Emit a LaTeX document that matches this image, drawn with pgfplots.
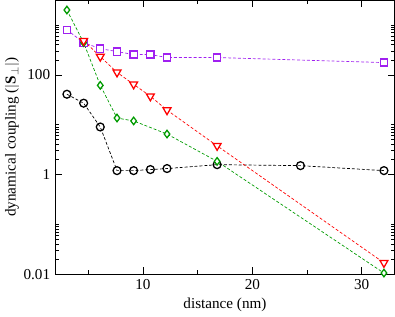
\documentclass[border=0pt]{standalone}
\usepackage{pgfplots}
\pgfplotsset{compat=1.18}
\usepackage{fontspec}
\setmainfont{Liberation Serif}
\definecolor{ggreen}{RGB}{0,155,0}
\definecolor{gviolet}{RGB}{160,32,240}
\begin{document}
\fontsize{15.4}{18}\selectfont
\begin{tikzpicture}
\begin{axis}[
  scale only axis,
  width=343bp, height=277bp,
  xmin=2, xmax=33,
  ymode=log, ymin=0.01, ymax=3100,
  xtick={10,20,30},
  minor xtick={5,15,25},
  ytick={0.01,1,100},
  yticklabels={0.01,1,100},
  minor ytick={0.02,0.03,0.04,0.05,0.06,0.07,0.08,0.09,0.1,2,3,4,5,6,7,8,9,10,200,300,400,500,600,700,800,900,1000},
  tick align=inside,
  major tick length=7bp,
  minor tick length=4bp,
  tick style={black, line width=0.6pt},
  axis line style={line width=0.9pt},
  /pgf/number format/assume math mode=true,
  tick label style={font=\fontsize{15.4}{18}\selectfont},
  label style={font=\fontsize{15.4}{18}\selectfont},
  xlabel={distance (nm)},
  ylabel={dynamical coupling ($|\mathbf{S}_\perp|$)},
  xlabel style={yshift=2bp},
  ylabel style={yshift=-6bp},
  every axis plot/.append style={line width=0.7pt, dash pattern=on 3pt off 2pt},
]
\addplot[black, mark=o, mark size=4pt, mark options={solid, line width=1.3pt, fill=white}] coordinates {
(3.05,40.8) (4.58,27) (6.1,9.0) (7.63,1.2) (9.15,1.2) (10.68,1.26) (12.2,1.32) (16.78,1.58) (24.4,1.51) (32.03,1.2)};
\addplot[gviolet, mark=square*, mark size=3.6pt, mark options={solid, line width=1.3pt, fill=white}] coordinates {
(3.05,800) (4.58,441) (6.1,335) (7.63,292) (9.15,255) (10.68,255) (12.2,222) (16.78,222) (32.03,176)};
\addplot[ggreen, mark=diamond*, mark size=3.8pt, mark options={solid, line width=1.3pt, fill=white}] coordinates {
(3.05,1995) (4.58,441) (6.1,61.5) (7.63,13.6) (9.15,11.9) (12.2,6.5) (16.78,1.84) (32.03,0.0106)};
\addplot[red, mark=triangle*, mark size=4.6pt, mark options={solid, line width=1.3pt, fill=white, rotate=180}] coordinates {
(4.58,483) (6.1,232) (7.63,112) (9.15,64.5) (10.68,37.2) (12.2,19.6) (16.78,3.77) (32.03,0.017)};
\end{axis}
\end{tikzpicture}
\end{document}
